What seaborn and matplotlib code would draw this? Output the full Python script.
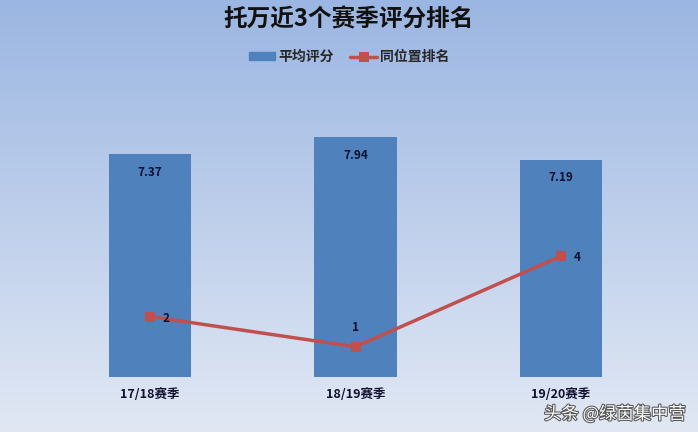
import numpy as np
import matplotlib.pyplot as plt
import matplotlib.patheffects as pe
from matplotlib.lines import Line2D
from matplotlib.patches import Patch
from matplotlib.colors import LinearSegmentedColormap
import seaborn as sns

seasons = ["17/18赛季", "18/19赛季", "19/20赛季"]
ratings = [7.37, 7.94, 7.19]
ranks = [2, 1, 4]
title = "托万近3个赛季评分排名"
legend_labels = ["平均评分", "同位置排名"]
watermark = "头条 @绿茵集中营"

BAR_COLOUR = "#4f81bd"
LINE_COLOUR = "#c0504d"
TEXT_COLOUR = "#10102e"

sns.set_theme(style="white")
plt.rcParams["font.family"] = ["Noto Sans CJK SC", "DejaVu Sans"]

fig = plt.figure(figsize=(6.98, 4.32), dpi=100)

# gradient background
bg = fig.add_axes([0, 0, 1, 1], zorder=-10)
cmap = LinearSegmentedColormap.from_list("bg", ["#9bb6e2", "#e1e8f4"])
bg.imshow(np.linspace(0, 1, 256).reshape(-1, 1), aspect="auto", cmap=cmap,
          extent=[0, 1, 0, 1], origin="upper")
bg.set_axis_off()

ax = fig.add_axes([47.25 / 698, 55 / 432, 616.5 / 698, 272 / 432])
ax.patch.set_alpha(0)
sns.barplot(x=seasons, y=ratings, color=BAR_COLOUR, width=0.4,
            saturation=1, linewidth=0, ax=ax)
ax.set_xlim(-0.5, 2.5)
ax.set_ylim(0, 9)
ax.set_yticks([])
ax.set_ylabel("")
ax.tick_params(axis="x", length=0, pad=8)
for lbl in ax.get_xticklabels():
    lbl.set_fontweight("bold")
    lbl.set_fontsize(9)
    lbl.set_color(TEXT_COLOUR)
sns.despine(ax=ax, left=True, bottom=True)

for i, v in enumerate(ratings):
    ax.text(i, v - 0.6, f"{v:.2f}", ha="center", va="center",
            fontsize=8.5, fontweight="bold", color=TEXT_COLOUR)

ax2 = ax.twinx()
sns.lineplot(x=list(range(len(ranks))), y=ranks, ax=ax2, color=LINE_COLOUR,
             lw=2.5, marker="s", markersize=7, markeredgewidth=0)
ax2.set_ylim(0, 9)
ax2.set_xlim(-0.5, 2.5)
ax2.set_yticks([])
ax2.set_ylabel("")
sns.despine(ax=ax2, left=True, bottom=True, right=True)

offsets = [(0.08, -0.05), (0, 0.65), (0.08, -0.05)]
for i, (r, (dx, dy)) in enumerate(zip(ranks, offsets)):
    ax2.text(i + dx, r + dy, str(r), ha="center", va="center",
             fontsize=8.5, fontweight="bold", color=TEXT_COLOUR)

fig.text(0.5, 1 - 19 / 432, title, ha="center", va="center",
         fontsize=17, fontweight="bold", color="#111111")

handles = [Patch(color=BAR_COLOUR),
           Line2D([], [], color=LINE_COLOUR, lw=2.5, marker="s",
                  markersize=7, markeredgewidth=0)]
fig.legend(handles, legend_labels, loc="center", ncol=2,
           bbox_to_anchor=(0.5, 1 - 57 / 432), frameon=False,
           prop={"size": 10, "weight": "bold"}, handlelength=1.9,
           handleheight=0.5, columnspacing=1.2, handletextpad=0.2)

fig.text(686 / 698, 1 - 414 / 432, watermark, ha="right", va="center",
         fontsize=12.5, color="white",
         path_effects=[pe.withStroke(linewidth=1.5, foreground="#555555")])

fig.savefig("out.png", dpi=100)
